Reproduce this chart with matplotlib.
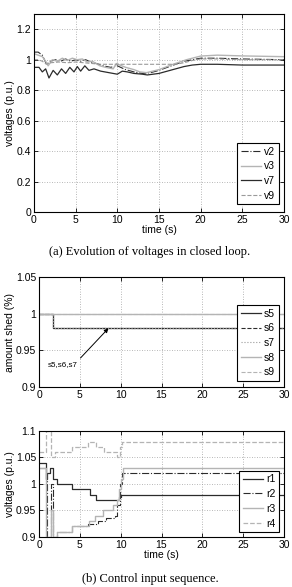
import matplotlib
matplotlib.use("Agg")
import matplotlib.pyplot as plt
from matplotlib.ticker import FuncFormatter

# ---- data ----
# (a) voltages in closed loop
t_v7 = [0, 0.6, 1.0, 1.4, 1.8, 2.3, 2.8, 3.3, 3.8, 4.3, 4.8, 5.2, 5.6, 6.1, 6.6,
        7.2, 8, 9, 10, 10.6, 11.2, 12, 13, 13.6, 15, 16, 17, 18, 19, 20, 22, 25, 30]
v7 = [0.95, 0.95, 0.92, 0.94, 0.88, 0.93, 0.90, 0.94, 0.91, 0.95, 0.92, 0.955, 0.925,
      0.96, 0.93, 0.94, 0.925, 0.915, 0.905, 0.925, 0.92, 0.91, 0.905, 0.90, 0.91,
      0.925, 0.94, 0.955, 0.965, 0.97, 0.97, 0.965, 0.965]

t_v3 = [0, 0.5, 1.0, 1.4, 1.7, 2.2, 2.8, 3.4, 4.0, 4.6, 5.2, 5.8, 6.4, 7.0, 7.9, 8.6,
        9.5, 9.9, 10.3, 11, 12, 12.7, 13.5, 15, 16.7, 18.3, 20, 22, 25, 30]
v3 = [1.04, 1.03, 1.02, 0.99, 0.96, 1.0, 0.99, 1.01, 0.995, 1.01, 1.0, 1.005, 0.985,
      0.99, 0.96, 0.95, 0.94, 0.975, 0.965, 0.95, 0.935, 0.92, 0.915, 0.935, 0.97,
      1.0, 1.024, 1.03, 1.025, 1.02]

t_v2 = [0, 0.5, 1.0, 1.5, 2.0, 2.6, 3.2, 3.8, 4.4, 5.0, 5.6, 6.2, 6.8, 7.5, 8.3,
        9.2, 10, 11, 12, 13, 14, 15, 16.5, 18, 20, 22, 25, 30]
v2 = [1.05, 1.05, 1.03, 0.97, 0.99, 1.0, 0.99, 1.005, 0.99, 1.0, 0.99, 1.0, 0.985,
      0.975, 0.96, 0.95, 0.96, 0.935, 0.92, 0.91, 0.915, 0.93, 0.96, 0.99, 1.01,
      1.01, 1.005, 1.0]

t_v9 = [0, 0.5, 1.0, 1.5, 2.0, 3.0, 4.0, 5.0, 6.0, 7.0, 8.0, 10, 12, 14, 16, 17,
        18, 19, 20, 22, 25, 30]
v9 = [1.0, 1.0, 0.99, 0.97, 0.98, 0.985, 0.98, 0.985, 0.98, 0.975, 0.97, 0.97, 0.97,
      0.97, 0.97, 0.97, 0.98, 0.995, 1.005, 1.005, 1.0, 1.0]

# load shedding (steps)
t_s = [0, 1.7, 30]
s5 = [1.0, 0.98, 0.98]
s6 = [1.0, 0.98, 0.98]
s7 = [1.0, 0.98, 0.98]
s8 = [1.0, 1.0, 1.0]
s9 = [1.0, 1.0, 1.0]

# (b) control input sequence (steps)
t_r1 = [0, 0.8, 1.0, 1.3, 1.7, 2.2, 4.0, 6.3, 7.0, 9.8, 10.0, 30]
r1 = [1.04, 1.01, 1.02, 1.03, 1.01, 1.00, 0.99, 0.98, 0.97, 0.975, 0.98, 0.98]

t_r2 = [0, 0.8, 1.0, 1.5, 1.7, 2.2, 4.0, 6.0, 7.2, 8.2, 9.3, 9.6, 9.9, 10.2, 30]
r2 = [1.03, 1.01, 0.90, 1.00, 0.90, 0.91, 0.92, 0.925, 0.93, 0.935, 0.94, 0.96,
      1.0, 1.02, 1.02]

t_r3 = [0, 0.8, 1.5, 1.7, 2.2, 4.0, 6.1, 6.9, 7.8, 9.0, 9.5, 9.8, 10.0, 10.3, 30]
r3 = [1.03, 0.90, 0.95, 0.90, 0.91, 0.92, 0.93, 0.94, 0.95, 0.96, 0.97, 0.99,
      1.01, 1.03, 1.03]

t_r4 = [0, 0.8, 1.5, 2.0, 4.0, 6.0, 7.0, 8.0, 9.5, 9.9, 10.2, 30]
r4 = [1.06, 1.10, 1.05, 1.06, 1.07, 1.08, 1.07, 1.06, 1.05, 1.07, 1.08, 1.08]

dark = "#2b2b2b"
light = "#b4b4b4"
mid = "#9a9a9a"

plt.rcParams["font.family"] = ["Liberation Sans", "DejaVu Sans"]
plt.rcParams["font.size"] = 7.5

fig = plt.figure(figsize=(2.92, 5.87), dpi=100)
ax1 = fig.add_axes([0.1164, 0.6388, 0.856, 0.3373])
ax2 = fig.add_axes([0.1336, 0.3407, 0.839, 0.1874])
ax3 = fig.add_axes([0.1336, 0.0852, 0.839, 0.1806])

fmt = FuncFormatter(lambda v, p: "%g" % round(v, 3))


def style(ax):
    ax.grid(True, linestyle=(0, (1, 2)), color="#a0a0a0", linewidth=0.6)
    ax.tick_params(direction="in", length=3, width=0.6, pad=2, top=True, right=True,
                   labelsize=7.5)
    for sp in ax.spines.values():
        sp.set_linewidth(0.8)
    ax.yaxis.set_major_formatter(fmt)


def legend(ax, anchor):
    lg = ax.legend(loc="center right", bbox_to_anchor=anchor, fancybox=False,
                   edgecolor="black", framealpha=1, handlelength=1.9,
                   handletextpad=0.3, borderpad=0.35, labelspacing=0.45,
                   borderaxespad=0.5, fontsize=7.5)
    lg.get_frame().set_linewidth(0.8)
    return lg


# ---- (a) ----
ax1.plot(t_v2, v2, color=dark, linestyle="-.", lw=0.8, label="v2")
ax1.plot(t_v3, v3, color=light, linestyle="-", lw=1.0, label="v3")
ax1.plot(t_v7, v7, color=dark, linestyle="-", lw=0.9, label="v7")
ax1.plot(t_v9, v9, color=mid, linestyle="--", lw=0.8, label="v9")
ax1.set_xlim(0, 30)
ax1.set_ylim(0, 1.3)
ax1.set_xticks(range(0, 31, 5))
ax1.set_yticks([0, 0.2, 0.4, 0.6, 0.8, 1.0, 1.2])
style(ax1)
ax1.set_xlabel("time (s)", labelpad=0)
ax1.set_ylabel("voltages (p.u.)", labelpad=1)
legend(ax1, (1.0, 0.194))
fig.text(0.514, 0.5707, "(a) Evolution of voltages in closed loop.",
         family=["Liberation Serif", "DejaVu Serif"], fontsize=9,
         ha="center", va="center")

# ---- shedding ----
ax2.step(t_s, s5, where="post", color=dark, linestyle="-", lw=0.9, label="s5")
ax2.step(t_s, s6, where="post", color=dark, linestyle="--", lw=0.8, label="s6")
ax2.step(t_s, s7, where="post", color=mid, linestyle=":", lw=0.8, label="s7")
ax2.step(t_s, s8, where="post", color=light, linestyle="-", lw=1.0, label="s8")
ax2.step(t_s, s9, where="post", color=light, linestyle="--", lw=0.8, label="s9")
ax2.set_xlim(0, 30)
ax2.set_ylim(0.9, 1.05)
ax2.set_xticks(range(0, 31, 5))
ax2.set_yticks([0.9, 0.95, 1.0, 1.05])
style(ax2)
ax2.set_ylabel("amount shed (%)", labelpad=1)
legend(ax2, (1.0, 0.40))
ax2.annotate("s5,s6,s7", xy=(8.5, 0.98), xytext=(1.1, 0.931),
             fontsize=5.8, ha="left", va="center",
             arrowprops=dict(arrowstyle="-|>", color="black", lw=0.7,
                             mutation_scale=6, shrinkA=0, shrinkB=0,
                             relpos=(1.0, 1.0)))

# ---- (b) ----
ax3.step(t_r1, r1, where="post", color=dark, linestyle="-", lw=0.9, label="r1")
ax3.step(t_r2, r2, where="post", color=dark, linestyle="-.", lw=0.8, label="r2")
ax3.step(t_r3, r3, where="post", color=light, linestyle="-", lw=1.0, label="r3")
ax3.step(t_r4, r4, where="post", color=light, linestyle="--", lw=0.9, label="r4")
ax3.set_xlim(0, 30)
ax3.set_ylim(0.9, 1.1)
ax3.set_xticks(range(0, 31, 5))
ax3.set_yticks([0.9, 0.95, 1.0, 1.05, 1.1])
style(ax3)
ax3.set_xlabel("time (s)", labelpad=0)
ax3.set_ylabel("voltages (p.u.)", labelpad=1)
legend(ax3, (1.0, 0.335))
fig.text(0.514, 0.0136, "(b) Control input sequence.",
         family=["Liberation Serif", "DejaVu Serif"], fontsize=9,
         ha="center", va="center")

fig.savefig("out.png", dpi=100)
